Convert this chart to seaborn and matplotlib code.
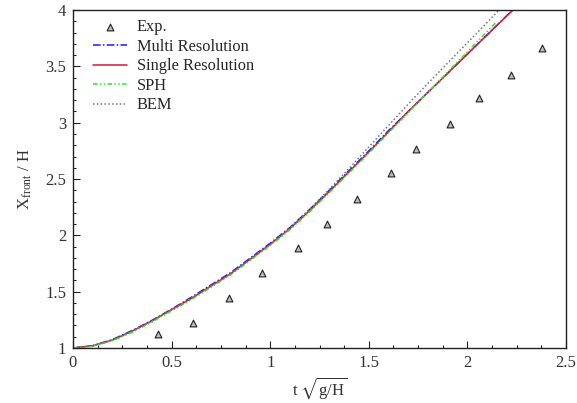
import numpy as np
import pandas as pd
import matplotlib
matplotlib.use("Agg")
import matplotlib.pyplot as plt
from matplotlib import font_manager
from matplotlib.ticker import AutoMinorLocator
import seaborn as sns

# Experimental data
exp_t = [0.43, 0.61, 0.79, 0.96, 1.14, 1.29, 1.44, 1.61, 1.74, 1.91, 2.06, 2.22, 2.38]
exp_x = [1.12, 1.22, 1.44, 1.67, 1.89, 2.10, 2.32, 2.55, 2.77, 2.99, 3.22, 3.42, 3.66]

# Single resolution
single_t = [0.0, 0.1, 0.2, 0.3, 0.4, 0.5, 0.6, 0.7, 0.8, 0.9, 1.0, 1.1, 1.2, 1.3, 1.4, 1.5, 1.6, 1.7, 1.8, 1.9, 2.0, 2.1, 2.2, 2.23]
single_x = [1.0, 1.02, 1.07, 1.15, 1.24, 1.34, 1.44, 1.55, 1.66, 1.79, 1.92, 2.06, 2.22, 2.39, 2.565, 2.74, 2.92, 3.10, 3.27, 3.44, 3.61, 3.78, 3.95, 4.0]

# Multi resolution
multi_t = [0.0, 0.1, 0.2, 0.3, 0.4, 0.5, 0.6, 0.7, 0.8, 0.9, 1.0, 1.1, 1.2, 1.3, 1.4, 1.5, 1.6, 1.7, 1.8, 1.9, 2.0, 2.1, 2.2, 2.23]
multi_x = [1.0, 1.02, 1.075, 1.155, 1.245, 1.345, 1.45, 1.56, 1.67, 1.80, 1.93, 2.07, 2.23, 2.40, 2.575, 2.75, 2.93, 3.10, 3.27, 3.44, 3.61, 3.78, 3.95, 4.0]

# SPH
sph_t = [0.0, 0.1, 0.2, 0.3, 0.4, 0.5, 0.6, 0.7, 0.8, 0.9, 1.0, 1.1, 1.2, 1.3, 1.4, 1.5, 1.6, 1.7, 1.8, 1.9, 2.0, 2.1, 2.15]
sph_x = [1.0, 1.015, 1.065, 1.14, 1.23, 1.33, 1.43, 1.54, 1.65, 1.78, 1.91, 2.05, 2.21, 2.38, 2.555, 2.73, 2.91, 3.09, 3.27, 3.45, 3.63, 3.81, 3.90]

# BEM
bem_t = [0.0, 0.1, 0.2, 0.3, 0.4, 0.5, 0.6, 0.7, 0.8, 0.9, 1.0, 1.1, 1.2, 1.3, 1.4, 1.5, 1.6, 1.7, 1.8, 1.9, 2.0, 2.1, 2.16]
bem_x = [1.0, 1.02, 1.07, 1.15, 1.24, 1.34, 1.44, 1.55, 1.66, 1.79, 1.92, 2.065, 2.23, 2.41, 2.595, 2.785, 2.975, 3.165, 3.35, 3.53, 3.71, 3.89, 4.0]

sns.set_style("ticks")
available = {f.name for f in font_manager.fontManager.ttflist}
serif_choice = "DejaVu Serif"
for cand in ["Liberation Serif", "Times New Roman", "Nimbus Roman", "TeX Gyre Termes", "STIXGeneral"]:
    if cand in available:
        serif_choice = cand
        break
plt.rcParams["font.family"] = [serif_choice, "DejaVu Serif"]
plt.rcParams["mathtext.fontset"] = "stix"
plt.rcParams["xtick.direction"] = "in"
plt.rcParams["ytick.direction"] = "in"

fig = plt.figure(figsize=(5.77, 4.03), dpi=100)
ax = fig.add_axes([0.1265, 0.1365, 0.8545, 0.8385])

df_exp = pd.DataFrame({"t": exp_t, "x": exp_x})
sns.scatterplot(data=df_exp, x="t", y="x", ax=ax, marker="^", s=24,
                facecolor="#bbbbbb", edgecolor="#222222", linewidth=0.8,
                label="Exp.", zorder=5)

series = [
    ("Multi Resolution", multi_t, multi_x, "#1a1aff", (0, (5, 1.5, 1, 1.5))),
    ("Single Resolution", single_t, single_x, "#d4143c", "-"),
    ("SPH", sph_t, sph_x, "#22ee22", (0, (3, 1.5, 1, 1.5, 1, 1.5))),
    ("BEM", bem_t, bem_x, "#777777", (0, (1, 1.5))),
]
for name, tt, xx, col, ls in series:
    d = pd.DataFrame({"t": tt, "x": xx})
    sns.lineplot(data=d, x="t", y="x", ax=ax, color=col, linestyle=ls,
                 linewidth=1.1, label=name, sort=False)

ax.set_xlim(0, 2.5)
ax.set_ylim(1, 4)
ax.set_xticks([0, 0.5, 1, 1.5, 2, 2.5])
ax.set_xticklabels(["0", "0.5", "1", "1.5", "2", "2.5"])
ax.set_yticks([1, 1.5, 2, 2.5, 3, 3.5, 4])
ax.set_yticklabels(["1", "1.5", "2", "2.5", "3", "3.5", "4"])
ax.xaxis.set_minor_locator(AutoMinorLocator(4))
ax.yaxis.set_minor_locator(AutoMinorLocator(5))
ax.tick_params(axis="both", which="major", length=5, width=0.8, labelsize=12, colors="#222222", labelcolor="#333333")
ax.tick_params(axis="y", which="major", pad=5)
ax.tick_params(axis="x", which="major", pad=5)
ax.tick_params(axis="both", which="minor", length=2.5, width=0.8, colors="#222222")
for sp in ax.spines.values():
    sp.set_visible(True)
    sp.set_linewidth(1.0)
    sp.set_color("#222222")

ax.set_xlabel(r"t $\sqrt{\mathregular{g/H}}$", fontsize=12, color="#333333", labelpad=3)
ax.set_ylabel(r"X$_\mathregular{front}$ / H", fontsize=12, color="#333333", labelpad=8)

leg = ax.legend(loc="upper left", frameon=False, fontsize=11.8, handlelength=2.1,
                handletextpad=0.6, borderaxespad=0.0, borderpad=0.3,
                labelspacing=0.22, bbox_to_anchor=(0.03, 0.988))
fig.savefig("out.png", dpi=100)
